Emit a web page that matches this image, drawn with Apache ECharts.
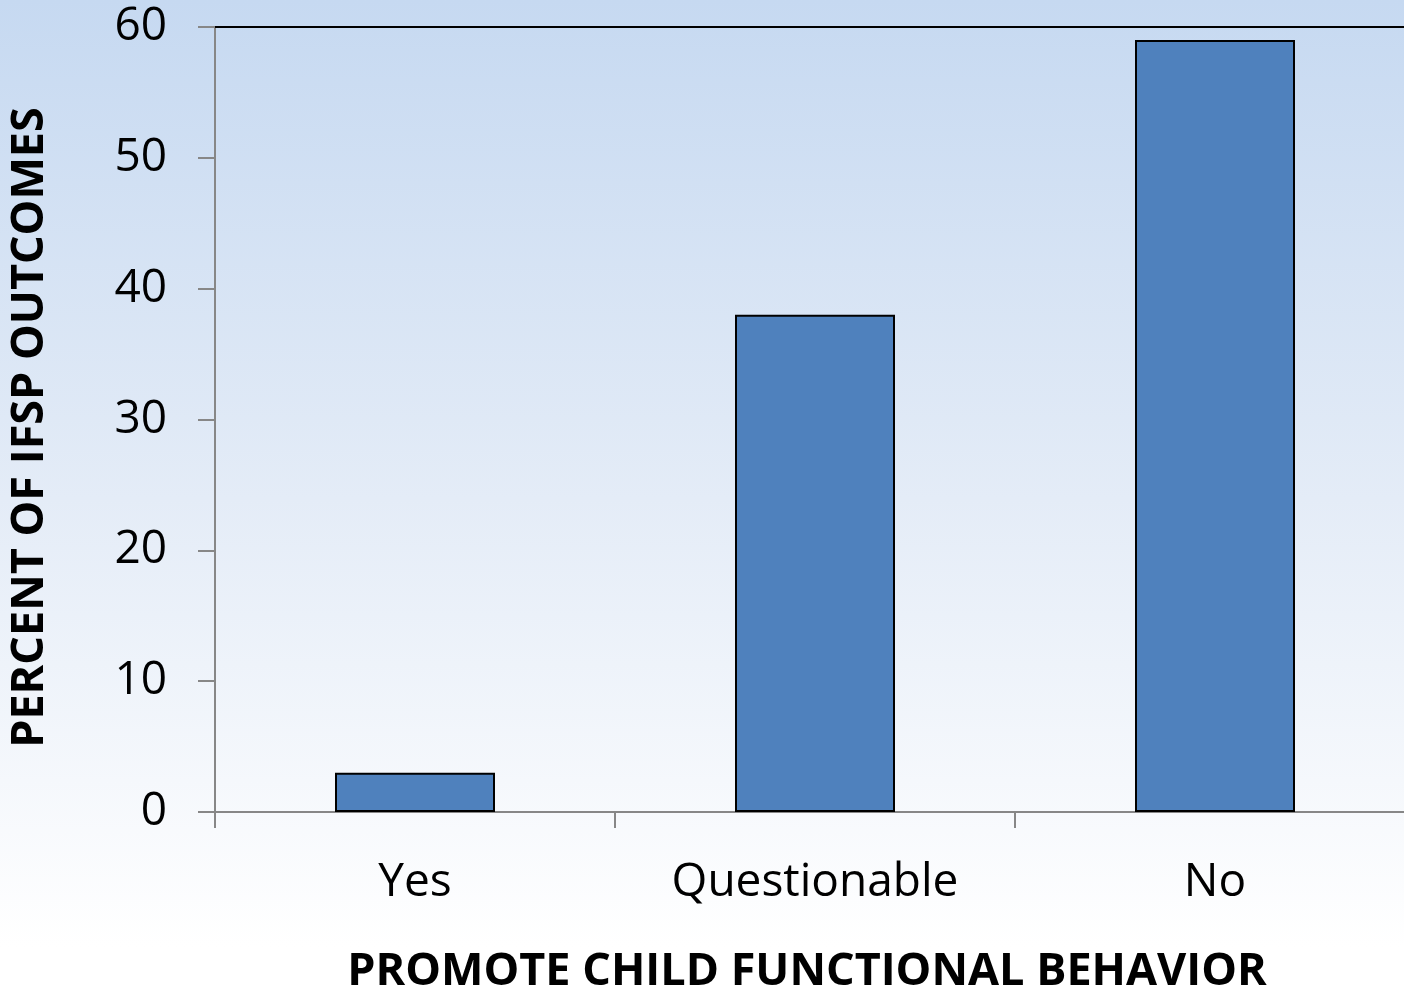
<!DOCTYPE html>
<html>
<head>
<meta charset="utf-8">
<script src="https://cdn.jsdelivr.net/npm/echarts@6/dist/echarts.min.js"></script>
<style>
html,body{margin:0;padding:0;overflow:hidden;width:1404px;height:997px;}
body{background:linear-gradient(to bottom,#c6d9f1 0%,#e4ecf7 50%,#ffffff 95%);}
#chart{width:1430px;height:997px;}
</style>
</head>
<body>
<div id="chart"></div>
<script>
const categories = ["Yes", "Questionable", "No"];
const values = [3, 38, 59];
const yTicks = { min: 0, max: 60, interval: 10 };
const xTitle = "PROMOTE CHILD FUNCTIONAL BEHAVIOR";
const yTitle = "PERCENT OF IFSP OUTCOMES";

const chart = echarts.init(document.getElementById('chart'), null, {renderer: 'canvas'});
const font = "'Open Sans', sans-serif";
chart.setOption({
  backgroundColor: 'transparent',
  animation: false,
  grid: { left: 215, top: 27, width: 1200, height: 785, outerBoundsMode: 'none', containLabel: false },
  xAxis: [{
    type: 'category',
    data: categories,
    axisLine: { lineStyle: { color: '#878787', width: 2 } },
    axisTick: { show: true, length: 16, lineStyle: { color: '#878787', width: 2 } },
    axisLabel: { color: '#000', fontSize: 46, fontFamily: font, margin: 48 },
    name: xTitle,
    nameLocation: 'middle',
    nameGap: 138,
    nameTextStyle: { color: '#000', fontSize: 45, fontWeight: 'bold', fontFamily: font, padding: [0, 16, 0, 0] }
  }, {
    type: 'category',
    data: categories,
    position: 'top',
    axisLine: { show: true, lineStyle: { color: '#000', width: 2 } },
    axisTick: { show: false },
    axisLabel: { show: false }
  }],
  yAxis: {
    type: 'value',
    min: yTicks.min, max: yTicks.max, interval: yTicks.interval,
    axisLine: { show: true, lineStyle: { color: '#878787', width: 2 } },
    axisTick: { show: true, length: 17, lineStyle: { color: '#878787', width: 2 } },
    splitLine: { show: false },
    axisLabel: { color: '#000', fontSize: 46, fontFamily: font, margin: 48 },
    name: yTitle,
    nameLocation: 'middle',
    nameGap: 162,
    nameTextStyle: { color: '#000', fontSize: 45, fontWeight: 'bold', fontFamily: font, padding: [0, 16, 0, 0] }
  },
  series: [{
    type: 'bar',
    data: values,
    barWidth: '40%',
    itemStyle: { color: '#4f81bd', borderColor: '#000', borderWidth: 2 }
  }]
});
</script>
</body>
</html>
